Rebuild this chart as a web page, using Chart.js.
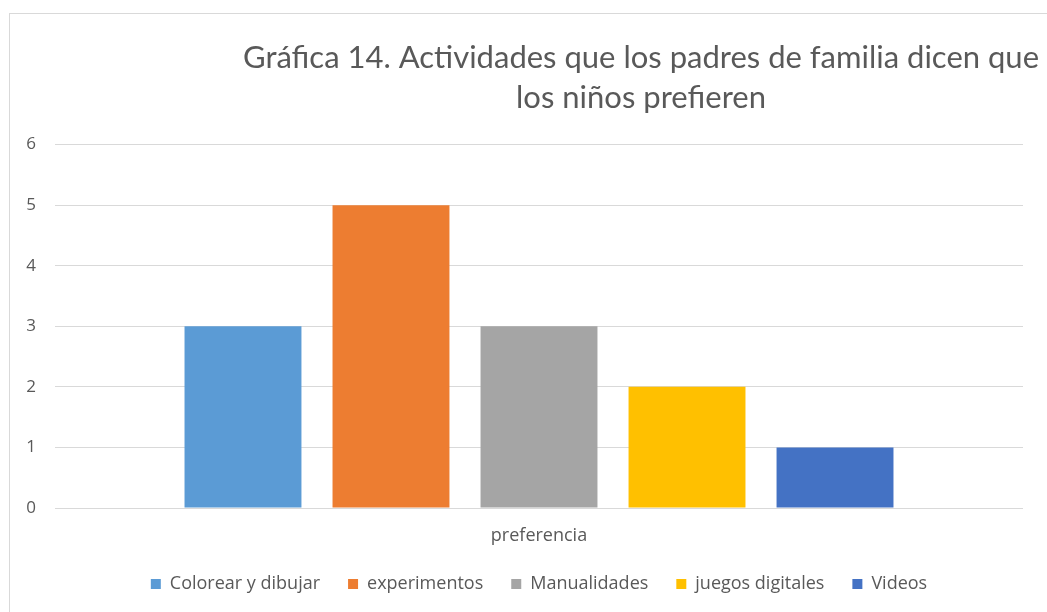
<!DOCTYPE html>
<html>
<head>
<meta charset="utf-8">
<script src="https://cdn.jsdelivr.net/npm/chart.js@4"></script>
<style>
	html, body { margin: 0; padding: 0; background: #fff; overflow: hidden; width: 1047px; height: 612px; }
	#cadre { position: absolute; left: 9px; top: 13px; width: 1400px; height: 800px; border: 1px solid #d9d9d9; }
	#chart1 { position: absolute; left: 0; top: 0; }
</style>
</head>
<body>
<div id="cadre">
	<canvas id="chart1" width="1262" height="598"></canvas>
</div>
<script>
// données
const categories = ["preferencia"];
const series = ["Colorear y dibujar", "experimentos", "Manualidades", "juegos digitales", "Videos"];
const valeurs = [3, 5, 3, 2, 1];
const couleurs = ["#5B9BD5", "#ED7D31", "#A5A5A5", "#FFC000", "#4472C4"];
const yTicks = [0, 1, 2, 3, 4, 5, 6];

const policeTitre = "Lato, 'Open Sans', sans-serif";
const police = "'Open Sans', Lato, sans-serif";
const gris = '#595959';

var datasets = [];
for (var i = 0; i < series.length; i++) {
	datasets.push({
		label: series[i],
		data: [valeurs[i]],
		backgroundColor: couleurs[i],
		borderWidth: 0,
		yAxisID: 'y',
	});
}

const ctx1 = document.getElementById('chart1');

new Chart(ctx1, {
	type: 'bar',
	data: {
		labels: categories,
		datasets: datasets
	},
	options: {
		responsive: false,
		animation: false,
		layout: {
			padding: { left: 0, right: 0, top: 0, bottom: 9 }
		},
		datasets: {
			bar: { barPercentage: 0.79, categoryPercentage: 0.7645 }
		},
		plugins: {
			title: {
				display: true,
				text: ['Gráfica 14. Actividades que los padres de familia dicen que', 'los niños prefieren'],
				color: gris,
				font: { family: policeTitre, size: 31, weight: 'normal', lineHeight: 1.3 },
				padding: { top: 24, bottom: 26 }
			},
			legend: {
				position: 'bottom',
				fullSize: false,
				labels: {
					color: gris,
					font: { family: police, size: 18 },
					boxWidth: 10,
					boxHeight: 10,
					padding: 28
				}
			},
			tooltip: { enabled: false }
		},
		scales: {
			x: {
				grid: { display: false, drawTicks: false },
				border: { display: false },
				ticks: { color: gris, font: { family: police, size: 18 }, padding: 17 },
				afterFit: function (axe) { axe.height = 39; }
			},
			y: {
				min: 0,
				max: 6,
				afterBuildTicks: function (axe) { axe.ticks = yTicks.map(function (v) { return { value: v }; }); },
				afterFit: function (axe) { axe.width = 45; },
				grid: { color: '#d9d9d9', drawTicks: false },
				border: { display: false },
				ticks: { color: gris, font: { family: police, size: 17 }, padding: 19 }
			},
			// marge droite invisible pour que le titre soit centré sur tout le cadre
			vide: {
				type: 'linear',
				position: 'right',
				grid: { display: false },
				border: { display: false },
				ticks: { display: false },
				afterFit: function (axe) { axe.width = 249; }
			}
		}
	}
});
</script>
</body>
</html>
